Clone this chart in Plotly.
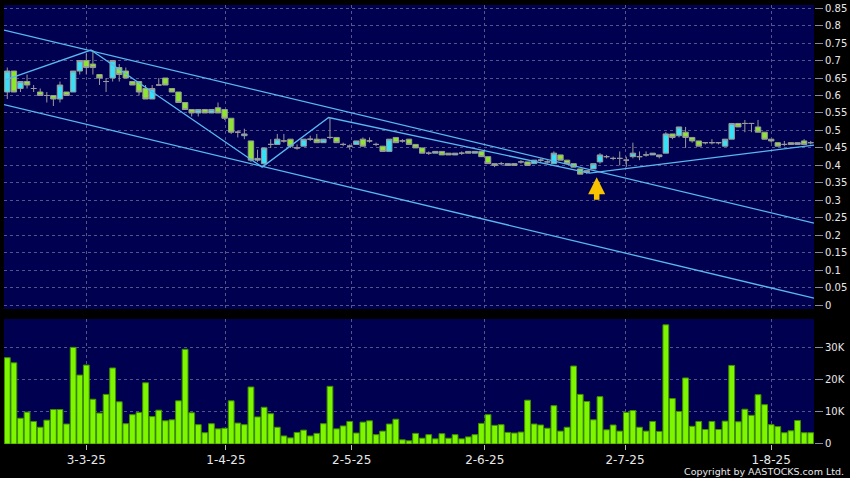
import plotly.graph_objects as go

# ---- data (one entry per trading session) ----
OPEN = [0.61, 0.67, 0.62, 0.64, 0.62, 0.61, 0.60, 0.60, 0.59, 0.61,
        0.61, 0.67, 0.70, 0.69, 0.66, 0.64, 0.65, 0.68, 0.67, 0.64,
        0.64, 0.62, 0.59, 0.63, 0.65, 0.62, 0.61, 0.58, 0.56, 0.55,
        0.56, 0.55, 0.565, 0.56, 0.535, 0.495, 0.485, 0.47, 0.415, 0.405,
        0.46, 0.46, 0.47, 0.475, 0.45, 0.455, 0.475, 0.475, 0.465, 0.48,
        0.48, 0.46, 0.455, 0.46, 0.475, 0.47, 0.46, 0.455, 0.44, 0.48,
        0.47, 0.475, 0.46, 0.45, 0.435, 0.435, 0.44, 0.435, 0.43, 0.435,
        0.44, 0.435, 0.44, 0.425, 0.405, 0.405, 0.40, 0.405, 0.41, 0.41,
        0.405, 0.415, 0.41, 0.405, 0.43, 0.415, 0.405, 0.39, 0.38, 0.39,
        0.41, 0.425, 0.42, 0.42, 0.415, 0.425, 0.425, 0.43, 0.43, 0.425,
        0.435, 0.49, 0.485, 0.495, 0.48, 0.47, 0.465, 0.465, 0.465, 0.455,
        0.475, 0.52, 0.52, 0.52, 0.51, 0.495, 0.475, 0.465, 0.46, 0.465,
        0.46, 0.47, 0.465]
HIGH = [0.68, 0.67, 0.64, 0.66, 0.63, 0.62, 0.61, 0.60, 0.64, 0.61,
        0.67, 0.70, 0.72, 0.73, 0.66, 0.65, 0.70, 0.69, 0.68, 0.64,
        0.64, 0.63, 0.63, 0.65, 0.65, 0.62, 0.61, 0.58, 0.56, 0.56,
        0.56, 0.56, 0.58, 0.56, 0.535, 0.50, 0.505, 0.47, 0.445, 0.45,
        0.475, 0.49, 0.49, 0.475, 0.46, 0.475, 0.485, 0.49, 0.475, 0.535,
        0.48, 0.465, 0.46, 0.47, 0.48, 0.48, 0.465, 0.455, 0.475, 0.48,
        0.475, 0.475, 0.46, 0.45, 0.44, 0.44, 0.44, 0.435, 0.435, 0.44,
        0.44, 0.44, 0.44, 0.425, 0.405, 0.41, 0.405, 0.405, 0.415, 0.41,
        0.415, 0.42, 0.415, 0.44, 0.43, 0.415, 0.405, 0.39, 0.385, 0.405,
        0.435, 0.43, 0.425, 0.44, 0.425, 0.465, 0.44, 0.44, 0.435, 0.43,
        0.495, 0.49, 0.51, 0.51, 0.48, 0.47, 0.465, 0.475, 0.465, 0.475,
        0.52, 0.52, 0.53, 0.52, 0.53, 0.495, 0.475, 0.465, 0.47, 0.465,
        0.465, 0.475, 0.47]
LOW = [0.59, 0.61, 0.61, 0.62, 0.61, 0.60, 0.58, 0.57, 0.58, 0.60,
       0.61, 0.66, 0.66, 0.66, 0.63, 0.61, 0.64, 0.64, 0.65, 0.63,
       0.60, 0.59, 0.59, 0.63, 0.63, 0.61, 0.58, 0.56, 0.54, 0.54,
       0.55, 0.55, 0.55, 0.53, 0.49, 0.48, 0.475, 0.41, 0.41, 0.395,
       0.45, 0.46, 0.465, 0.45, 0.445, 0.455, 0.47, 0.465, 0.465, 0.475,
       0.465, 0.455, 0.445, 0.46, 0.455, 0.465, 0.455, 0.44, 0.44, 0.465,
       0.465, 0.46, 0.45, 0.435, 0.43, 0.435, 0.43, 0.43, 0.43, 0.43,
       0.435, 0.435, 0.425, 0.405, 0.395, 0.40, 0.40, 0.40, 0.405, 0.40,
       0.405, 0.41, 0.405, 0.405, 0.415, 0.405, 0.395, 0.375, 0.375, 0.39,
       0.405, 0.42, 0.415, 0.40, 0.395, 0.42, 0.415, 0.425, 0.43, 0.42,
       0.435, 0.475, 0.48, 0.45, 0.465, 0.455, 0.46, 0.46, 0.46, 0.455,
       0.475, 0.51, 0.495, 0.495, 0.495, 0.475, 0.465, 0.455, 0.455, 0.46,
       0.46, 0.46, 0.46]
CLOSE = [0.67, 0.61, 0.64, 0.63, 0.62, 0.60, 0.60, 0.59, 0.63, 0.60,
         0.67, 0.70, 0.68, 0.68, 0.65, 0.64, 0.70, 0.66, 0.65, 0.63,
         0.61, 0.59, 0.62, 0.63, 0.63, 0.61, 0.58, 0.56, 0.55, 0.56,
         0.55, 0.56, 0.55, 0.535, 0.495, 0.495, 0.49, 0.415, 0.42, 0.45,
         0.46, 0.475, 0.47, 0.455, 0.45, 0.475, 0.475, 0.465, 0.475, 0.48,
         0.465, 0.46, 0.455, 0.47, 0.455, 0.47, 0.46, 0.44, 0.475, 0.465,
         0.47, 0.46, 0.45, 0.435, 0.435, 0.44, 0.43, 0.43, 0.435, 0.435,
         0.435, 0.44, 0.425, 0.405, 0.40, 0.405, 0.405, 0.40, 0.41, 0.40,
         0.415, 0.415, 0.41, 0.435, 0.415, 0.405, 0.395, 0.375, 0.385, 0.405,
         0.43, 0.425, 0.42, 0.42, 0.415, 0.435, 0.425, 0.43, 0.435, 0.43,
         0.49, 0.48, 0.51, 0.48, 0.47, 0.455, 0.465, 0.465, 0.465, 0.475,
         0.52, 0.51, 0.52, 0.52, 0.495, 0.475, 0.47, 0.455, 0.46, 0.46,
         0.465, 0.46, 0.465]
VOLUME = [26800, 25200, 8000, 9900, 7000, 5200, 7400, 10700, 10700, 6200,
          30000, 21400, 24500, 13900, 9600, 15400, 23600, 13100, 6300, 9100,
          9800, 19000, 8500, 10500, 7200, 7500, 13400, 29400, 9700, 6000,
          3500, 6300, 4700, 4900, 13400, 6500, 6000, 17700, 8400, 11400,
          9400, 5200, 2500, 1900, 3600, 4300, 2500, 3300, 6300, 17900,
          4700, 5600, 7000, 3400, 6800, 7200, 2900, 4000, 6200, 7700,
          1300, 1000, 3300, 1800, 2900, 1600, 3200, 1800, 2900, 1600,
          2200, 2900, 6400, 9100, 5800, 6000, 3600, 3400, 3700, 13600,
          6200, 5900, 4900, 11900, 4000, 5200, 24200, 15400, 13200, 7500,
          14700, 4400, 5900, 4000, 9800, 10400, 5200, 4000, 7000, 3900,
          37000, 14100, 10100, 20500, 5500, 7000, 4500, 7000, 4500, 7100,
          24400, 6900, 10800, 8900, 15300, 12200, 6000, 5400, 3500, 4100,
          7300, 3500, 3500]
SESSION = list(range(len(CLOSE)))

DATE_LABELS = ["3-3-25", "1-4-25", "2-5-25", "2-6-25", "2-7-25", "1-8-25"]
PRICE_TICKS = [0, 0.05, 0.1, 0.15, 0.2, 0.25, 0.3, 0.35, 0.4, 0.45,
               0.5, 0.55, 0.6, 0.65, 0.7, 0.75, 0.8, 0.85]
PRICE_LABELS = ["0", "0.05", "0.1", "0.15", "0.2", "0.25", "0.3", "0.35", "0.4", "0.45",
                "0.5", "0.55", "0.6", "0.65", "0.7", "0.75", "0.8", "0.85"]
VOL_TICKS = [0, 10000, 20000, 30000]
VOL_LABELS = ["0", "10K", "20K", "30K"]

# drawn trend lines: (session, price) pairs
UPPER_CHANNEL_X = [-0.5, 122.5]
UPPER_CHANNEL_Y = [0.787, 0.235]
LOWER_CHANNEL_X = [-0.5, 122.5]
LOWER_CHANNEL_Y = [0.574, 0.02]
ZIGZAG_X = [-0.3, 12.7, 38.7, 48.8, 88.4, 122.5]
ZIGZAG_Y = [0.645, 0.73, 0.395, 0.537, 0.378, 0.458]
ARROW_AT = (89.5, 0.366)

# ---- styling ----
NAVY = "#000050"
GRID = "#55558a"
TXT = "#e8e8e8"
DATE_TICKVALS = [12, 33.2, 52.3, 72.5, 93.8, 116]

fig = go.Figure()

fig.add_trace(go.Candlestick(
    x=SESSION, open=OPEN, high=HIGH, low=LOW, close=CLOSE,
    increasing=dict(fillcolor="#36e0f6", line=dict(color="#9a9a9a", width=1)),
    decreasing=dict(fillcolor="#8ce62e", line=dict(color="#9a9a9a", width=1)),
    whiskerwidth=0, xaxis="x", yaxis="y", showlegend=False, hoverinfo="skip"))

line_style = dict(color="#58b8f0", width=1.3)
for xs, ys in [(UPPER_CHANNEL_X, UPPER_CHANNEL_Y),
               (LOWER_CHANNEL_X, LOWER_CHANNEL_Y),
               (ZIGZAG_X, ZIGZAG_Y)]:
    fig.add_trace(go.Scatter(x=xs, y=ys, mode="lines", line=line_style,
                             xaxis="x", yaxis="y", showlegend=False, hoverinfo="skip"))

fig.add_trace(go.Bar(
    x=SESSION, y=VOLUME, xaxis="x2", yaxis="y2",
    marker=dict(color="#7ef600", line=dict(color="#3f8f00", width=1)),
    showlegend=False, hoverinfo="skip"))

fig.add_annotation(x=ARROW_AT[0], y=ARROW_AT[1], xref="x", yref="y",
                   text="", showarrow=True, ax=0, ay=24,
                   arrowhead=2, arrowsize=0.62, arrowwidth=5.5, arrowcolor="#f7c200")

fig.add_annotation(x=1.039, y=-0.062, xref="paper", yref="paper",
                   xanchor="right", yanchor="middle", showarrow=False,
                   text="Copyright by AASTOCKS.com Ltd.",
                   font=dict(family="DejaVu Sans", size=9.5, color=TXT))

common_x = dict(range=[-0.5, 122.5], tickvals=DATE_TICKVALS, ticktext=DATE_LABELS,
                showgrid=True, gridcolor=GRID, griddash="3px,3px", gridwidth=1,
                zeroline=False, showline=False)

fig.update_layout(
    width=850, height=478,
    margin=dict(l=4, r=36, t=5, b=34, autoexpand=False),
    paper_bgcolor="#000000", plot_bgcolor=NAVY,
    boxgap=0.18, boxgroupgap=0, bargap=0.12,
    xaxis=dict(**common_x, domain=[0, 1], anchor="y", showticklabels=False,
               ticks="", rangeslider=dict(visible=False)),
    yaxis=dict(domain=[0.3075, 1], side="right", range=[-0.011, 0.859],
               tickvals=PRICE_TICKS, ticktext=PRICE_LABELS,
               ticks="outside", ticklen=8, tickcolor="#8888aa",
               tickfont=dict(family="DejaVu Sans", size=10, color=TXT),
               showgrid=True, gridcolor=GRID, griddash="3px,3px",
               zeroline=False, showline=False),
    xaxis2=dict(**common_x, domain=[0, 1], anchor="y2", matches="x",
                ticks="outside", ticklen=5, tickcolor="#bbbbbb",
                tickfont=dict(family="DejaVu Sans", size=12, color=TXT)),
    yaxis2=dict(domain=[0, 0.2847], side="right", range=[0, 38800],
                tickvals=VOL_TICKS, ticktext=VOL_LABELS,
                ticks="outside", ticklen=8, tickcolor="#8888aa",
                tickfont=dict(family="DejaVu Sans", size=10, color=TXT),
                showgrid=True, gridcolor=GRID, griddash="3px,3px",
                zeroline=False, showline=False),
)

fig.write_html("out.html", config={"displayModeBar": False},
               post_script="document.body.style.margin='0px';document.body.style.overflow='hidden';")
